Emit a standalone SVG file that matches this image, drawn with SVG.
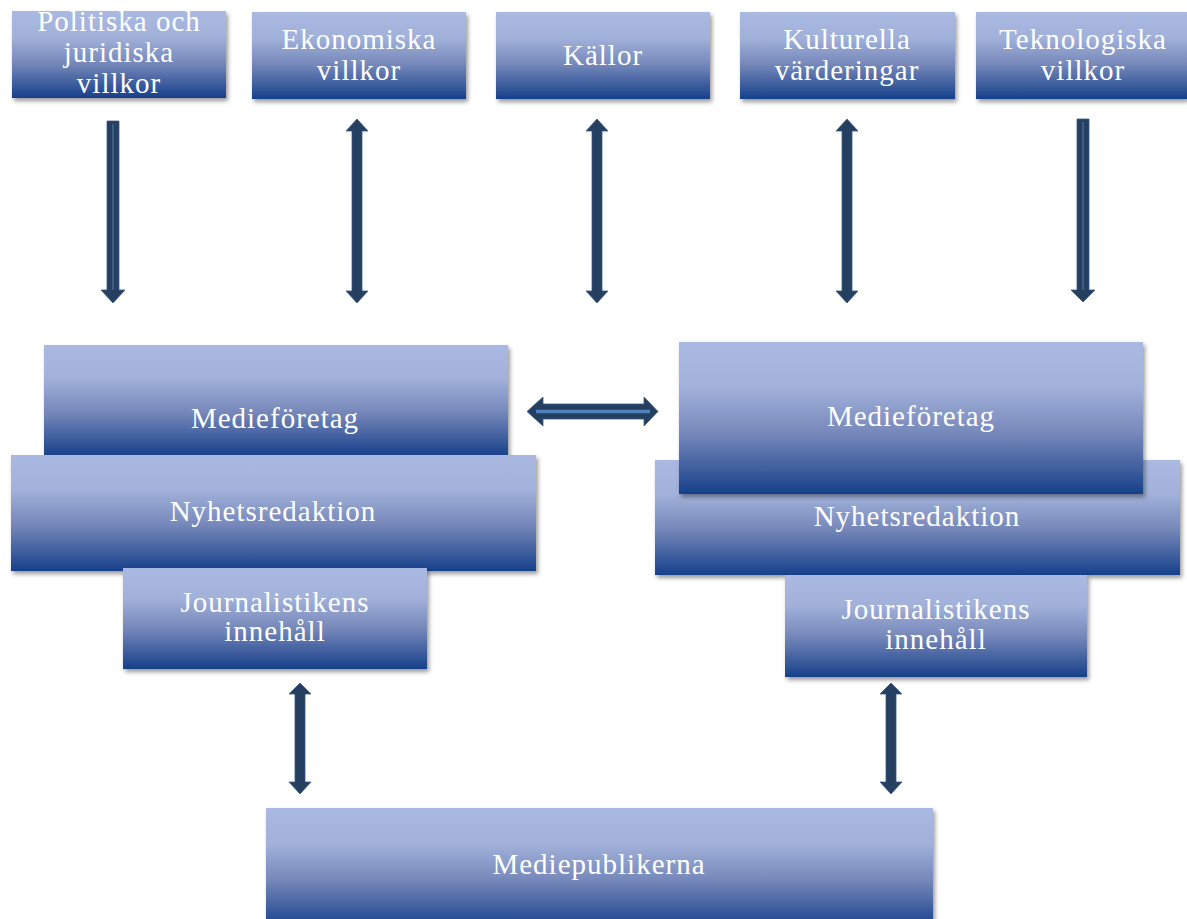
<svg xmlns="http://www.w3.org/2000/svg" width="1187" height="919" viewBox="0 0 1187 919">
<defs>
<linearGradient id="g" x1="0" y1="0" x2="0" y2="1">
<stop offset="0" stop-color="#a9b9e1"/>
<stop offset="0.3" stop-color="#a1b1da"/>
<stop offset="0.6" stop-color="#7688ba"/>
<stop offset="1" stop-color="#16408a"/>
</linearGradient>
<filter id="sh" x="-10%" y="-10%" width="130%" height="130%">
<feDropShadow dx="2" dy="3" stdDeviation="2" flood-color="#000" flood-opacity="0.4"/>
</filter>
</defs>
<style>
.box{fill:url(#g);filter:url(#sh)}
.t{font-family:"Liberation Serif","Times New Roman",serif;font-size:29px;letter-spacing:1px;fill:#fff;text-anchor:middle}
.ar{fill:#243f60;stroke:#3a5a86;stroke-width:0.8}
.in{stroke:#5a7aa6;stroke-width:1}
</style>
<rect width="1187" height="919" fill="#fff"/>

<g id="politiska"><rect class="box" x="12" y="11" width="214" height="87"/>
<text class="t" x="119" y="31">Politiska och</text><text class="t" x="119" y="62">juridiska</text><text class="t" x="119" y="93">villkor</text></g>
<g id="ekonomiska"><rect class="box" x="252" y="12" width="214" height="87"/>
<text class="t" x="359" y="49">Ekonomiska</text><text class="t" x="359" y="80">villkor</text></g>
<g id="kallor"><rect class="box" x="496" y="12" width="214" height="87"/>
<text class="t" x="603" y="65">Källor</text></g>
<g id="kulturella"><rect class="box" x="740" y="12" width="215" height="87"/>
<text class="t" x="847" y="49">Kulturella</text><text class="t" x="847" y="80">värderingar</text></g>
<g id="teknologiska"><rect class="box" x="976" y="12" width="211" height="87"/>
<text class="t" x="1083" y="49">Teknologiska</text><text class="t" x="1083" y="80">villkor</text></g>

<g id="medieforetag-l"><rect class="box" x="44" y="345" width="464" height="112"/>
<text class="t" x="275" y="428">Medieföretag</text></g>
<g id="nyhets-l"><rect class="box" x="11" y="455" width="525" height="116"/>
<text class="t" x="273" y="521">Nyhetsredaktion</text></g>
<g id="journ-l"><rect class="box" x="123" y="568" width="304" height="101"/>
<text class="t" x="275" y="612">Journalistikens</text><text class="t" x="275" y="641">innehåll</text></g>

<g id="nyhets-r"><rect class="box" x="655" y="460" width="525" height="115"/>
<text class="t" x="917" y="526">Nyhetsredaktion</text></g>
<g id="medieforetag-r"><rect class="box" x="679" y="342" width="464" height="152"/>
<text class="t" x="911" y="426">Medieföretag</text></g>
<g id="journ-r"><rect class="box" x="785" y="575" width="302" height="102"/>
<text class="t" x="936" y="619">Journalistikens</text><text class="t" x="936" y="649">innehåll</text></g>

<g id="mediepublikerna"><rect class="box" x="266" y="808" width="667" height="120"/>
<text class="t" x="599" y="874">Mediepublikerna</text></g>

<g id="connectors">
<polygon class="ar" points="107,121 119,121 119,290 125,290 113,303 101,290 107,290"/>
<line class="in" x1="113" y1="124" x2="113" y2="290"/>
<polygon class="ar" points="1077,119 1089,119 1089,290 1095,290 1083,302 1071,290 1077,290"/>
<line class="in" x1="1083" y1="122" x2="1083" y2="290"/>
<polygon class="ar" points="357,119 368,131 362,131 362,291 368,291 357,303 346,291 352,291 352,131 346,131"/>
<polygon class="ar" points="597,119 608,131 602,131 602,291 608,291 597,303 586,291 592,291 592,131 586,131"/>
<polygon class="ar" points="847,119 858,131 852,131 852,291 858,291 847,303 836,291 842,291 842,131 836,131"/>
<polygon class="ar" points="300,683 311,694 305,694 305,782 311,782 300,794 289,782 295,782 295,694 289,694"/>
<polygon class="ar" points="891,683 902,694 896,694 896,782 902,782 891,794 880,782 886,782 886,694 880,694"/>
<polygon class="ar" points="527,411.5 543,397 543,404 644,404 644,397 658,411.5 644,426 644,419 543,419 543,426"/>
<line x1="536" y1="411.5" x2="650" y2="411.5" stroke="#4f81bd" stroke-width="3.5"/>
</g>
</svg>
